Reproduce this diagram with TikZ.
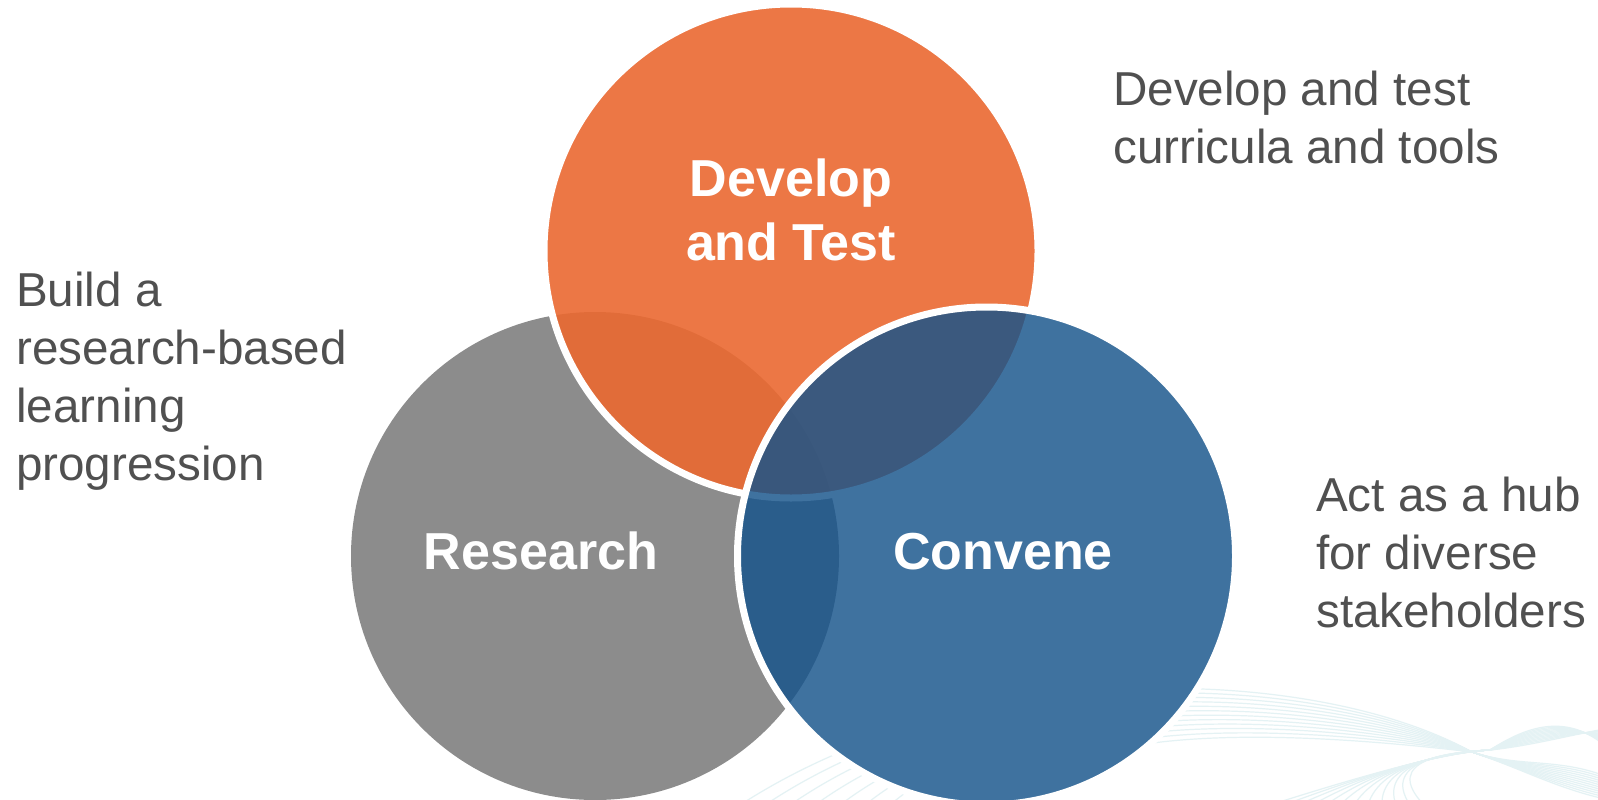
\documentclass[tikz,border=0pt]{standalone}
\usepackage{fontspec}
\setmainfont{Liberation Sans}
\definecolor{orng}{RGB}{235,105,49}
\definecolor{gry}{RGB}{140,140,140}
\definecolor{blu}{RGB}{21,83,139}
\definecolor{txtgray}{RGB}{80,80,80}
\definecolor{swoosh}{RGB}{228,242,244}
\begin{document}
\begin{tikzpicture}[x=1pt,y=-1pt,
  disc/.style={circle,inner sep=0pt,outer sep=0pt},
  inlabel/.style={text=white,font=\fontsize{52}{64}\selectfont\bfseries,align=center,inner sep=0pt,anchor=base},
  outlabel/.style={text=txtgray,font=\fontsize{47.6}{58}\selectfont,align=left,inner sep=0pt,anchor=base west},
  wave/.style={draw=swoosh,line width=1.2pt}]
\useasboundingbox (0,0) rectangle (1598,800);
\fill[white] (0,0) rectangle (1598,800);
% background swooshes (hidden under the blue disc)
\begin{scope}[even odd rule]
  \clip (0,0) rectangle (1598,800) (986.5,556) circle[radius=252];
  \foreach \i in {0,...,11}{
    \draw[wave] (740+25*\i,805) .. controls (980+8*\i,650+6*\i) and (1320,668+6*\i) .. (1472,752)
       .. controls (1520,768) and (1560,790-3*\i) .. (1610,800-2*\i);
    \draw[wave] (1270+14*\i,805) .. controls (1380,770-\i) and (1450,752) .. (1490,750)
       .. controls (1530,746-2*\i) and (1570,735-2*\i) .. (1610,728+2*\i);
  }
\end{scope}
% circles
\node[disc,fill=gry,minimum size=488pt] (res) at (595,556) {};
\node[disc,fill=orng,fill opacity=0.9,draw=white,line width=7pt,minimum size=494pt] (dev) at (791,251) {};
\node[disc,fill=blu,fill opacity=0.82,draw=white,line width=7pt,minimum size=498pt] (con) at (986.5,556) {};
% labels inside
\node[inlabel] (devl) at (791,260) {Develop\\and Test};
\node[inlabel] (resl) at (541,569) {Research};
\node[inlabel] (conl) at (1003,569) {Convene};
% outer texts
\node[outlabel] (t1) at (16,480) {Build a\\research-based\\learning\\progression};
\node[outlabel] (t2) at (1113,163) {Develop and test\\curricula and tools};
\node[outlabel] (t3) at (1316,627) {Act as a hub\\for diverse\\stakeholders};
\end{tikzpicture}
\end{document}
